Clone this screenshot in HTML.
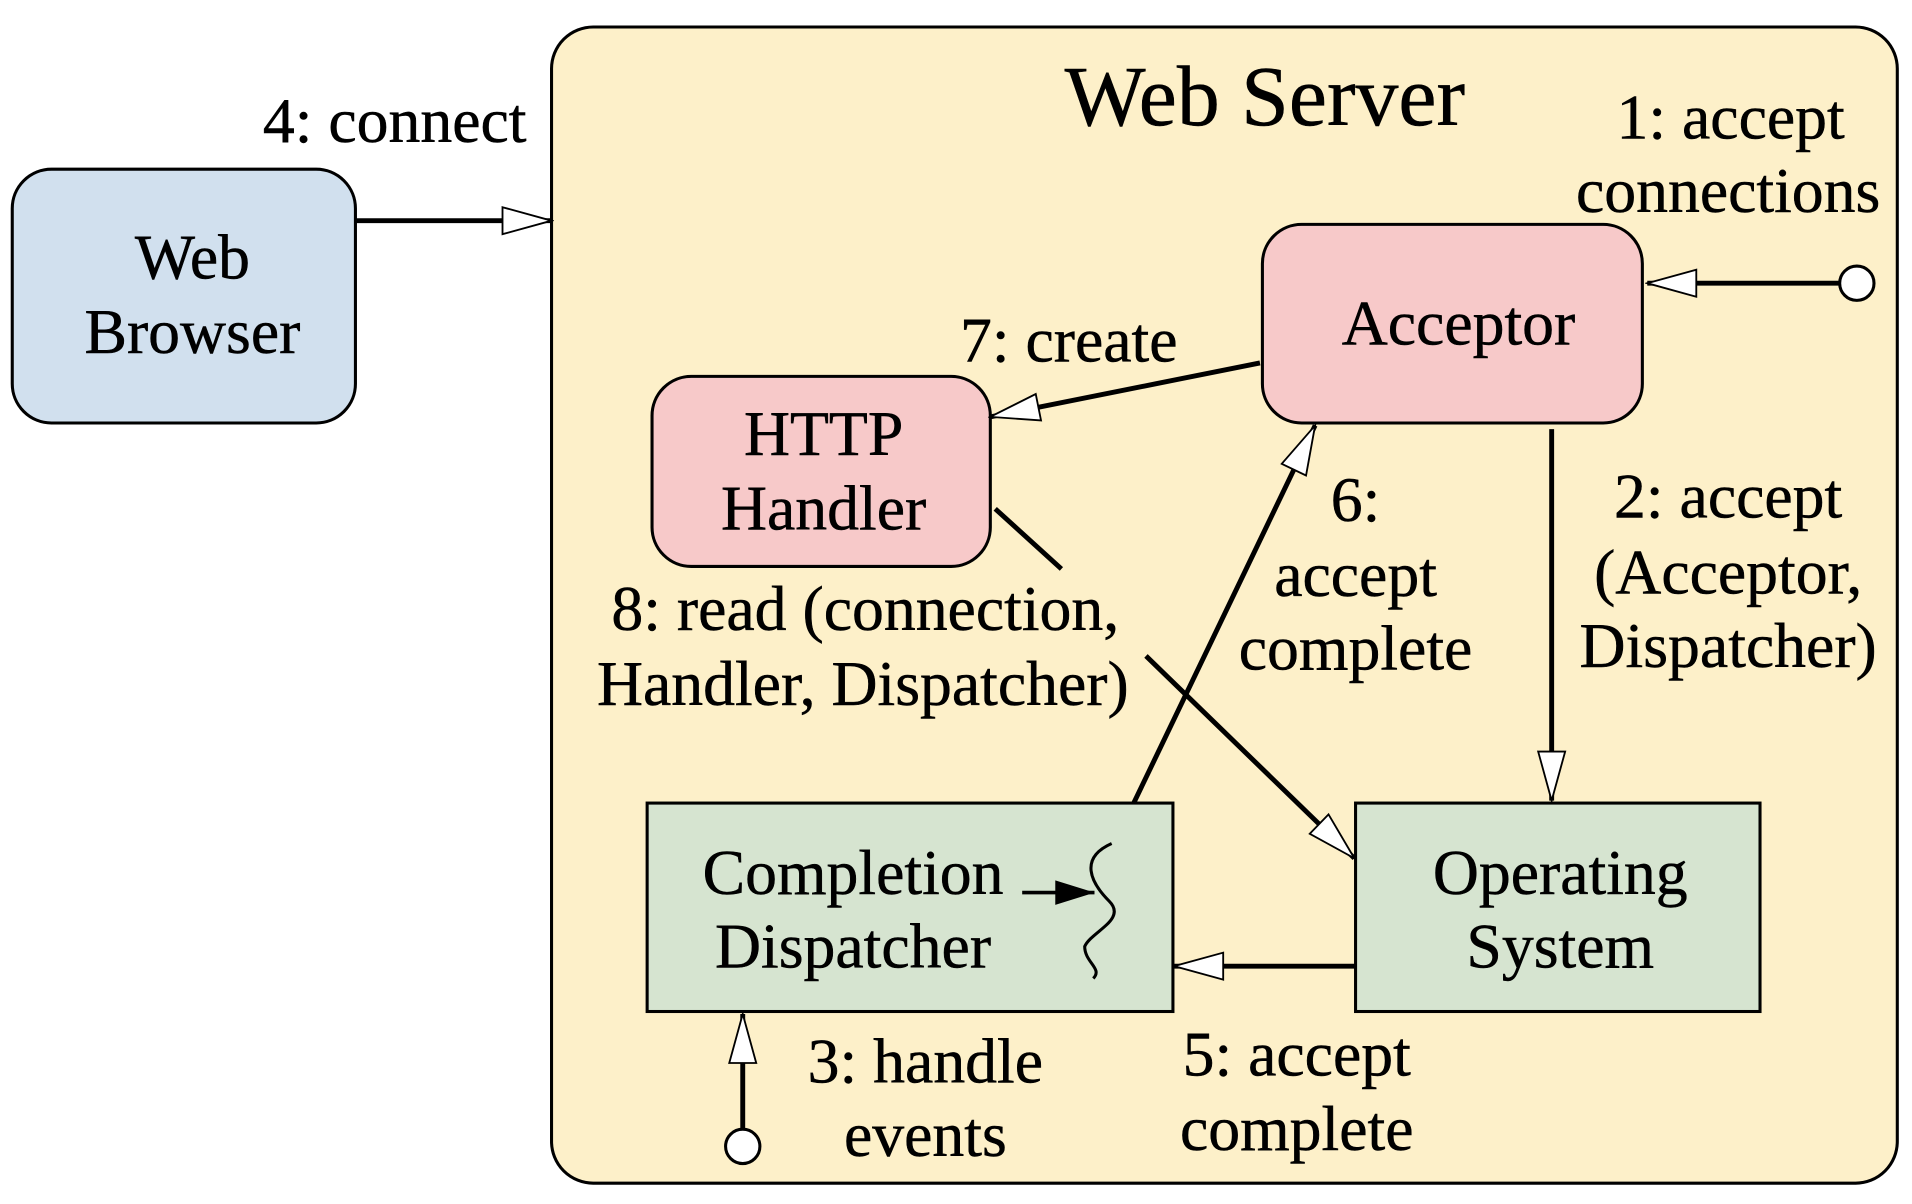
<!DOCTYPE html>
<html><head><meta charset="utf-8"><style>
html,body{margin:0;padding:0;background:#fff;}
svg{display:block;}
text{font-family:"Liberation Serif",serif;fill:#000;stroke:#000;stroke-width:0.4;}
</style></head><body>
<svg width="1912" height="1204" viewBox="0 0 1560 982" preserveAspectRatio="none" xmlns="http://www.w3.org/2000/svg">
<defs>
<marker id="h" markerWidth="44" markerHeight="26" refX="42" refY="13" orient="auto" markerUnits="userSpaceOnUse">
<path d="M2,2 L42,13 L2,24 Z" fill="#fff" stroke="#000" stroke-width="1.5"/>
</marker>
<marker id="s" markerWidth="36" markerHeight="26" refX="34" refY="13" orient="auto" markerUnits="userSpaceOnUse">
<path d="M2,3 L34,13 L2,23 Z" fill="#000"/>
</marker>
</defs>
<rect x="450" y="22" width="1098" height="943" rx="34" fill="#fdf0c9" stroke="#000" stroke-width="2.5"/>
<text x="1032" y="102" font-size="70" text-anchor="middle">Web Server</text>

<rect x="10" y="138" width="280" height="207" rx="32" fill="#d1e0ee" stroke="#000" stroke-width="2.5"/>
<text x="157" y="227" font-size="52" text-anchor="middle">Web</text>
<text x="157" y="288" font-size="52" text-anchor="middle">Browser</text>

<rect x="1030" y="183" width="310" height="162" rx="32" fill="#f7c9c9" stroke="#000" stroke-width="2.5"/>
<text x="1190" y="281" font-size="52" text-anchor="middle">Acceptor</text>

<rect x="532" y="307" width="276" height="155" rx="32" fill="#f7c9c9" stroke="#000" stroke-width="2.5"/>
<text x="672" y="371" font-size="52" text-anchor="middle">HTTP</text>
<text x="672" y="432" font-size="52" text-anchor="middle">Handler</text>

<rect x="528" y="655" width="429" height="170" fill="#d6e4d0" stroke="#000" stroke-width="2.5"/>
<text x="696" y="729" font-size="52" text-anchor="middle">Completion</text>
<text x="696" y="789" font-size="52" text-anchor="middle">Dispatcher</text>

<rect x="1106" y="655" width="330" height="170" fill="#d6e4d0" stroke="#000" stroke-width="2.5"/>
<text x="1273" y="729" font-size="52" text-anchor="middle">Operating</text>
<text x="1273" y="789" font-size="52" text-anchor="middle">System</text>

<line x1="834" y1="728" x2="893" y2="728" stroke="#000" stroke-width="3" marker-end="url(#s)"/>
<path d="M907,688 C880,700 890,720 905,735 C920,750 890,760 885,772 C885,785 900,790 892,798" fill="none" stroke="#000" stroke-width="2.5"/>

<line x1="290" y1="180" x2="450" y2="180" stroke="#000" stroke-width="4" marker-end="url(#h)"/>
<text x="322" y="116" font-size="52" text-anchor="middle">4: connect</text>

<circle cx="1515" cy="231" r="14" fill="#fff" stroke="#000" stroke-width="2.5"/>
<line x1="1501" y1="231" x2="1344" y2="231" stroke="#000" stroke-width="4" marker-end="url(#h)"/>
<text x="1412" y="113" font-size="52" text-anchor="middle">1: accept</text>
<text x="1410" y="173" font-size="52" text-anchor="middle">connections</text>

<line x1="1028" y1="296" x2="808" y2="340" stroke="#000" stroke-width="4" marker-end="url(#h)"/>
<text x="872" y="295" font-size="52" text-anchor="middle">7: create</text>

<line x1="1266" y1="350" x2="1266" y2="653" stroke="#000" stroke-width="4" marker-end="url(#h)"/>
<text x="1410" y="422" font-size="52" text-anchor="middle">2: accept</text>
<text x="1410" y="484" font-size="52" text-anchor="middle">(Acceptor,</text>
<text x="1410" y="544" font-size="52" text-anchor="middle">Dispatcher)</text>

<line x1="925" y1="655" x2="1073" y2="347" stroke="#000" stroke-width="4" marker-end="url(#h)"/>
<text x="1106" y="425" font-size="52" text-anchor="middle">6:</text>
<text x="1106" y="486" font-size="52" text-anchor="middle">accept</text>
<text x="1106" y="546" font-size="52" text-anchor="middle">complete</text>

<line x1="812" y1="415" x2="866" y2="464" stroke="#000" stroke-width="4"/>
<line x1="935" y1="535" x2="1105" y2="700" stroke="#000" stroke-width="4" marker-end="url(#h)"/>
<text x="706" y="514" font-size="52" text-anchor="middle">8: read (connection,</text>
<text x="704" y="575" font-size="52" text-anchor="middle">Handler, Dispatcher)</text>

<line x1="1106" y1="788" x2="958" y2="788" stroke="#000" stroke-width="4" marker-end="url(#h)"/>
<text x="1058" y="877" font-size="52" text-anchor="middle">5: accept</text>
<text x="1058" y="938" font-size="52" text-anchor="middle">complete</text>

<circle cx="606" cy="935" r="14" fill="#fff" stroke="#000" stroke-width="2.5"/>
<line x1="606" y1="921" x2="606" y2="827" stroke="#000" stroke-width="4" marker-end="url(#h)"/>
<text x="755" y="883" font-size="52" text-anchor="middle">3: handle</text>
<text x="755" y="943" font-size="52" text-anchor="middle">events</text>
</svg>
</body></html>
